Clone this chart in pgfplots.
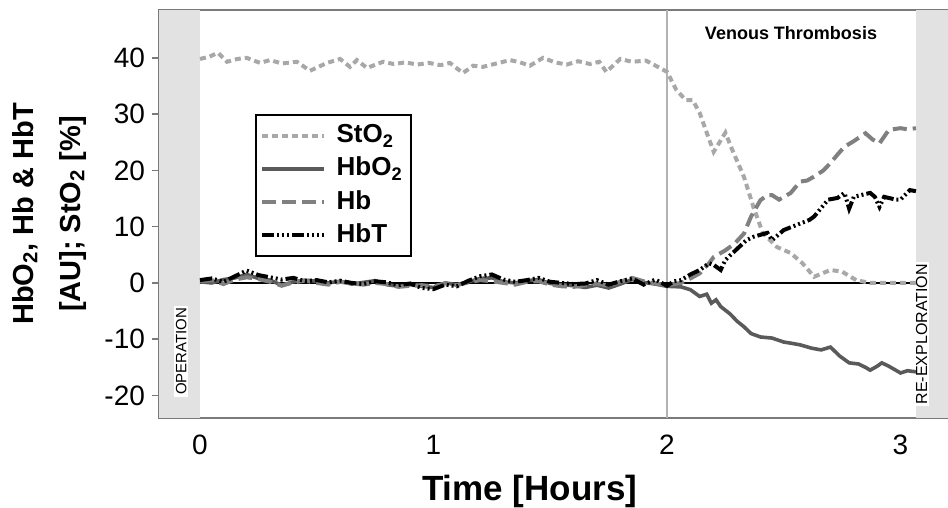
\documentclass[border=0pt]{standalone}
\usepackage{fontspec}
\setmainfont{Liberation Sans}
\usepackage{pgfplots}
\pgfplotsset{compat=1.18}
\definecolor{sto}{HTML}{A8A8A8}
\definecolor{hbo}{HTML}{5A5A5A}
\definecolor{hbc}{HTML}{808080}
\definecolor{band}{HTML}{E2E2E2}
\definecolor{frame}{HTML}{7A7A7A}
\begin{document}
\begin{tikzpicture}
\begin{axis}[
  at={(0,0)}, anchor=south west,
  width=394.5pt, height=204pt, scale only axis,
  xmin=-0.1756, xmax=3.2034, ymin=-24, ymax=48.5,
  xtick={0,1,2,3}, ytick={-20,-10,0,10,20,30,40},
  axis line style={frame, line width=0.9pt},
  ytick pos=left, xtick style={draw=none},
  ytick style={frame, line width=0.8pt},
  tick align=outside, major tick length=3.5pt,
  /pgf/number format/assume math mode=true,
  tick label style={font=\fontsize{14}{16}\selectfont},
  xticklabel style={anchor=north, text height=10pt, text depth=0pt, yshift=-1pt},
  xlabel={\textbf{Time [Hours]}},
  xlabel style={font=\fontsize{17.5}{19}\selectfont, at={(axis description cs:0.47,-0.201)}, anchor=base},
  ylabel={HbO\textsubscript{2}, Hb \& HbT\\{}[AU]; StO\textsubscript{2} [\%]},
  ylabel style={font=\fontsize{14.5}{23.5}\selectfont\bfseries, align=center, at={(axis description cs:-0.1394,0.5)}, anchor=center},
  legend cell align=left,
  legend image code/.code={\draw[#1] (0pt,0pt) -- (31pt,0pt);},
  legend style={at={(rel axis cs:0.1217,0.745)}, anchor=north west, draw=black, line width=1pt,
    font=\fontsize{13}{14}\selectfont\bfseries, inner sep=2pt, row sep=0pt, column sep=3pt,
    nodes={text height=9.5pt, text depth=2.5pt, inner sep=2.3pt}},
]
% background bands and guide lines
\fill[band] (axis cs:-0.1756,-24) rectangle (axis cs:0,48.5);
\fill[band] (axis cs:3.066,-24) rectangle (axis cs:3.2034,48.5);
\draw[black!30, line width=0.6pt] (axis cs:2,-24) -- (axis cs:2,48.5);
\draw[black, line width=0.6pt] (axis cs:0,0) -- (axis cs:3.066,0);
\node[rotate=90, fill=white, inner sep=1pt, anchor=west, font=\fontsize{7.5}{8}\selectfont] at (axis cs:-0.081,-20.3) {OPERATION};
\node[rotate=90, fill=white, inner sep=1pt, anchor=west, font=\fontsize{8}{9}\selectfont] at (axis cs:3.09,-22.0) {RE-EXPLORATION};
\node[font=\fontsize{9}{10}\selectfont\bfseries] at (axis cs:2.531,44.4) {Venous Thrombosis};

% StO2
\addplot[sto, line width=2pt, dash pattern=on 3pt off 2pt] coordinates {
(0,39.8)(0.04,40.2)(0.077,40.9)(0.116,39.3)(0.16,39.8)(0.2,40.0)(0.257,39.1)(0.3,39.6)(0.35,39.0)(0.415,39.3)(0.471,37.7)(0.544,39.1)(0.6,39.8)(0.642,38.4)(0.672,39.6)(0.715,38.2)(0.784,39.3)(0.83,38.9)(0.88,39.2)(0.93,38.8)(0.98,39.1)(1.03,38.7)(1.07,39.1)(1.126,37.3)(1.17,38.6)(1.212,38.4)(1.27,39.0)(1.328,39.6)(1.37,39.2)(1.413,38.6)(1.469,40.0)(1.52,39.2)(1.57,38.8)(1.62,39.4)(1.67,38.9)(1.71,39.3)(1.74,37.5)(1.8,39.8)(1.85,39.3)(1.91,39.5)(1.97,38.2)(2.0,37.5)(2.04,34.3)(2.08,32.5)(2.11,32.5)(2.14,30.2)(2.17,26.7)(2.2,23.3)(2.25,26.7)(2.28,23.6)(2.33,18.8)(2.37,13.5)(2.41,8.9)(2.47,6.4)(2.53,5.3)(2.58,3.5)(2.63,1.1)(2.70,2.3)(2.75,2.0)(2.81,0.5)(2.87,0)(2.95,0)(3.066,0)
};
\addlegendentry{StO\textsubscript{2}}

% HbO2
\addplot[hbo, line width=1.8pt] coordinates {
(0,0.2)(0.05,0.0)(0.1,0.6)(0.15,0.9)(0.2,1.5)(0.25,0.8)(0.3,0.5)(0.35,-0.4)(0.4,0.2)(0.45,0.5)(0.5,0.3)(0.55,0.0)(0.6,0.3)(0.65,-0.2)(0.7,0.1)(0.75,0.4)(0.8,-0.3)(0.85,-0.6)(0.9,-0.3)(0.95,-0.6)(1.0,-0.8)(1.05,0.0)(1.1,-0.3)(1.15,0.2)(1.2,0.8)(1.25,0.9)(1.3,0.2)(1.35,0.0)(1.4,0.4)(1.45,0.6)(1.5,-0.1)(1.55,-0.3)(1.6,-0.5)(1.65,-0.8)(1.7,-0.4)(1.75,-0.9)(1.8,-0.2)(1.85,0.6)(1.9,0.1)(1.95,-0.2)(2.0,-0.6)
(2.06,-0.7)(2.1,-1.2)(2.14,-2.4)(2.17,-2.0)(2.19,-3.6)(2.21,-3.0)(2.23,-4.2)(2.27,-5.5)(2.3,-6.8)(2.33,-7.8)(2.36,-9.0)(2.4,-9.6)(2.45,-9.8)(2.5,-10.5)(2.53,-10.7)(2.57,-11.0)(2.62,-11.6)(2.66,-11.9)(2.7,-11.4)(2.74,-13.0)(2.78,-14.2)(2.82,-14.4)(2.85,-15.0)(2.87,-15.5)(2.9,-14.8)(2.92,-14.2)(2.95,-14.8)(3.0,-16.0)(3.03,-15.6)(3.066,-15.8)
};
\addlegendentry{HbO\textsubscript{2}}

% Hb
\addplot[hbc, line width=2pt, dash pattern=on 7pt off 3pt] coordinates {
(0,0.3)(0.05,0.5)(0.1,-0.2)(0.15,0.6)(0.2,1.0)(0.25,0.7)(0.3,0.2)(0.35,-0.5)(0.4,0.1)(0.45,0.4)(0.5,0.0)(0.55,-0.3)(0.6,0.2)(0.65,-0.1)(0.7,-0.3)(0.75,0.0)(0.8,-0.2)(0.85,-0.7)(0.9,-0.5)(0.95,-0.4)(1.0,-0.6)(1.05,-0.1)(1.1,-0.4)(1.15,0.1)(1.2,0.5)(1.25,0.3)(1.3,0.0)(1.35,-0.3)(1.4,0.2)(1.45,0.3)(1.5,-0.3)(1.55,-0.6)(1.6,-0.7)(1.65,-0.4)(1.7,-0.1)(1.75,-0.5)(1.8,0.2)(1.85,0.9)(1.9,0.3)(1.95,-0.1)(2.0,-0.4)
(2.06,0)(2.1,0.8)(2.14,1.7)(2.18,3.5)(2.2,4.6)(2.25,5.8)(2.29,7.0)(2.33,8.8)(2.36,11.8)(2.4,14.7)(2.43,15.6)(2.45,15.6)(2.48,14.8)(2.53,16.0)(2.57,18.0)(2.6,18.2)(2.63,18.9)(2.67,20.0)(2.7,21.3)(2.73,22.8)(2.76,24.2)(2.8,25.2)(2.85,26.6)(2.88,25.5)(2.91,24.8)(2.95,27.2)(3.0,27.5)(3.03,27.3)(3.066,27.5)
};
\addlegendentry{Hb}

% HbT
\addplot[black, line width=2pt, dash pattern=on 6pt off 1.5pt on 1pt off 1.5pt on 1pt off 1.5pt on 1pt off 1.5pt] coordinates {
(0,0.5)(0.05,0.8)(0.1,0.2)(0.15,1.2)(0.2,2.2)(0.25,1.4)(0.3,1.0)(0.35,0.6)(0.4,0.9)(0.45,0.3)(0.5,0.5)(0.55,0.1)(0.6,0.4)(0.65,0.0)(0.7,-0.2)(0.75,0.3)(0.8,0.1)(0.85,-0.4)(0.9,-0.1)(0.95,-0.9)(1.0,-1.1)(1.05,-0.3)(1.1,-0.6)(1.15,0.4)(1.2,1.2)(1.25,1.5)(1.3,0.6)(1.35,0.2)(1.4,0.5)(1.45,0.9)(1.5,0.2)(1.55,0.0)(1.6,-0.2)(1.65,-0.1)(1.7,0.5)(1.75,-0.3)(1.8,0.3)(1.85,0.8)(1.9,-0.3)(1.95,0.6)(2.0,-0.5)
(2.03,0.3)(2.06,0.5)(2.1,1.5)(2.14,2.3)(2.18,3.5)(2.2,3.2)(2.23,2.3)(2.25,4.1)(2.34,7.6)(2.37,8.2)(2.43,8.9)(2.45,7.6)(2.5,9.4)(2.61,11.2)(2.63,11.8)(2.69,14.8)(2.73,15.1)(2.76,16.0)(2.78,13.2)(2.8,15.3)(2.87,16.0)(2.89,15.3)(2.91,13.5)(2.93,15.3)(2.98,14.8)(3.0,14.8)(3.04,16.5)(3.066,16.3)
};
\addlegendentry{HbT}
\end{axis}
\pgfresetboundingbox
\path (-79.5pt,-45pt) rectangle (394.5pt,209pt);
\end{tikzpicture}
\end{document}
